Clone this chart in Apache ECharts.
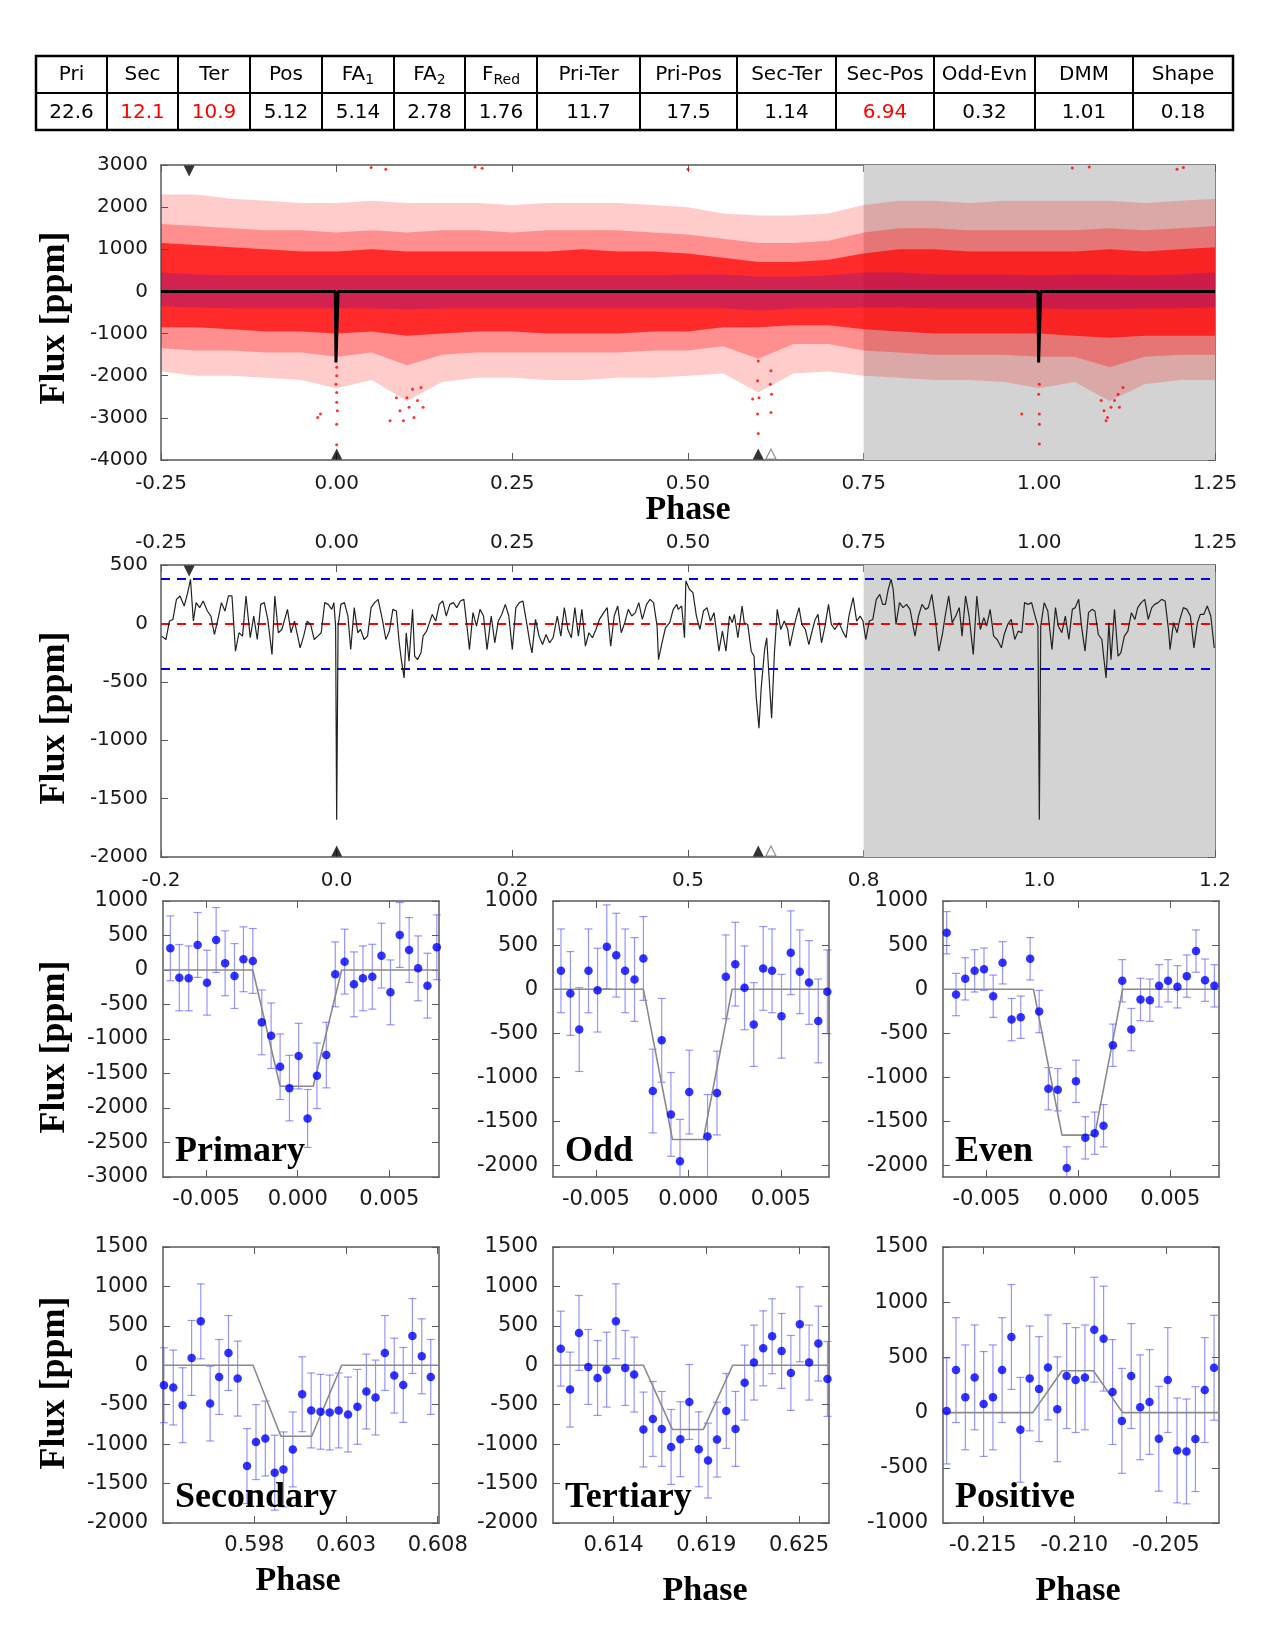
<!DOCTYPE html>
<html lang="en">
<head>
<meta charset="UTF-8">
<title>Flux vs phase diagnostics</title>
<script src="https://cdn.jsdelivr.net/npm/echarts@6/dist/echarts.min.js"></script>
<style>
  body { margin: 0; background: #fff; }
  #main { width: 1275px; height: 1650px; }
</style>
</head>
<body>
<div id="main"></div>
<script type="text/javascript">

// ---------- data ----------
const tableHead = ['Pri', 'Sec', 'Ter', 'Pos', 'FA{s|1}', 'FA{s|2}', 'F{s|Red}', 'Pri-Ter', 'Pri-Pos', 'Sec-Ter', 'Sec-Pos', 'Odd-Evn', 'DMM', 'Shape'];
const tableVals = ['22.6', '12.1', '10.9', '5.12', '5.14', '2.78', '1.76', '11.7', '17.5', '1.14', '6.94', '0.32', '1.01', '0.18'];
const tableRed = [false, true, true, false, false, false, false, false, false, false, true, false, false, false];

// phase axis of the two full-orbit panels
const phaseTicks = [-0.25, 0, 0.25, 0.5, 0.75, 1, 1.25];
const phaseLabels = ['-0.25', '0.00', '0.25', '0.50', '0.75', '1.00', '1.25'];
const phaseLabelsShort = ['-0.2', '0.0', '0.2', '0.5', '0.8', '1.0', '1.2'];
const shadeFrom = 0.75, shadeTo = 1.25;

// panel 1: unbinned (red) and binned (blue) flux, summarised as envelopes
const envPhase = [-0.25, -0.2, -0.15, -0.1, -0.05, 0, 0.05, 0.1, 0.15, 0.2, 0.25, 0.3, 0.35, 0.4, 0.45, 0.5, 0.55, 0.6, 0.65, 0.7, 0.75, 0.8, 0.85, 0.9, 0.95, 1.0, 1.05, 1.1, 1.15, 1.2, 1.25];
const redOuterHi = [2300, 2300, 2200, 2150, 2100, 2100, 2150, 2100, 2100, 2100, 2050, 2100, 2100, 2100, 2050, 2000, 1850, 1800, 1800, 1850, 2050, 2150, 2150, 2100, 2150, 2150, 2150, 2150, 2100, 2150, 2200];
const redMidHi = [1600, 1550, 1500, 1450, 1450, 1400, 1450, 1400, 1450, 1450, 1400, 1450, 1450, 1450, 1400, 1350, 1250, 1150, 1150, 1200, 1400, 1500, 1500, 1450, 1450, 1450, 1450, 1500, 1450, 1500, 1550];
const redInnerHi = [1150, 1100, 1050, 1000, 950, 950, 1000, 950, 950, 950, 950, 950, 1000, 950, 950, 900, 800, 700, 700, 750, 900, 1000, 1000, 950, 950, 950, 950, 1000, 950, 1000, 1050];
const redInnerLo = [-850, -850, -900, -950, -950, -1000, -950, -1050, -1000, -950, -950, -1000, -1000, -1000, -950, -950, -850, -850, -800, -800, -900, -950, -1000, -1000, -1000, -1000, -1050, -1100, -1050, -1050, -1050];
const redMidLo = [-1350, -1400, -1400, -1450, -1450, -1550, -1450, -1750, -1500, -1450, -1450, -1450, -1450, -1450, -1400, -1400, -1300, -1600, -1250, -1250, -1400, -1450, -1500, -1500, -1500, -1550, -1550, -1800, -1550, -1500, -1500];
const redOuterLo = [-1900, -2000, -2000, -2050, -2100, -2300, -2100, -2600, -2150, -2050, -2050, -2100, -2100, -2050, -2050, -2000, -1950, -2400, -1950, -1900, -2000, -2050, -2100, -2100, -2150, -2300, -2150, -2600, -2200, -2100, -2100];
const blueHi = [450, 400, 380, 380, 380, 380, 380, 380, 380, 380, 380, 380, 380, 380, 380, 400, 400, 350, 350, 380, 450, 450, 400, 400, 400, 380, 400, 400, 380, 400, 450];
const blueLo = [-350, -380, -400, -400, -400, -400, -400, -420, -400, -400, -400, -400, -400, -400, -400, -400, -400, -450, -400, -400, -380, -380, -400, -400, -400, -400, -420, -420, -400, -400, -380];
const redOutliers = [
  [0, -1800], [0, -2000], [-0.001, -2200], [0, -2400], [0, -2630], [0.001, -2830], [0, -3150], [0, -3640], [-0.023, -2910], [-0.027, -2990],
  [0.09, -2830], [0.095, -3070], [0.103, -2750], [0.11, -2990], [0.115, -2590], [0.12, -2280], [0.1, -2520], [0.108, -2320], [0.123, -2750], [0.085, -2520], [0.076, -3070],
  [0.6, -1650], [0.599, -2120], [0.601, -2520], [0.599, -2910], [0.6, -3370], [0.618, -1880], [0.617, -2200], [0.619, -2440], [0.618, -2870], [0.592, -2550],
  [1.0, -2200], [0.999, -2440], [1.0, -2910], [1.0, -3150], [1.0, -3620], [0.975, -2910],
  [1.092, -2830], [1.097, -2990], [1.102, -2750], [1.107, -2590], [1.095, -3070], [1.112, -2440], [1.114, -2750], [1.119, -2280], [1.088, -2590],
  [0.049, 2940], [0.07, 2900], [0.197, 2950], [0.207, 2920], [0.5, 2900], [1.047, 2930], [1.071, 2950], [1.196, 2900], [1.205, 2940]
];
const modelCurve = [[-0.25, 0], [-0.002, 0], [-0.001, -1685], [0.001, -1685], [0.002, 0], [0.998, 0], [0.999, -1685], [1.001, -1685], [1.002, 0], [1.25, 0]];

// event markers
const markPositive = [-0.21];
const markFilled = [0, 0.6];
const markOpen = [0.618];

// panel 2: smoothed flux
const sigmaLevel = 384;
const convCurve = [
  [-0.249, -109], [-0.243, -138], [-0.238, 20], [-0.233, 34], [-0.228, 206], [-0.223, 235], [-0.217, 149], [-0.212, 264], [-0.208, 378], [-0.204, 20],
  [-0.2, 178], [-0.195, 135], [-0.19, 192], [-0.184, 106], [-0.179, 63], [-0.174, -95], [-0.169, 34], [-0.164, 178], [-0.159, 106], [-0.154, 235],
  [-0.149, 235], [-0.144, -238], [-0.139, -80], [-0.134, -109], [-0.129, 235], [-0.123, -123], [-0.118, 63], [-0.113, -138], [-0.108, 163], [-0.103, 178],
  [-0.098, 34], [-0.092, -267], [-0.088, 235], [-0.083, -80], [-0.078, -52], [-0.07, 120], [-0.065, -80], [-0.06, 20], [-0.052, -209], [-0.047, -109],
  [-0.042, 20], [-0.037, -9], [-0.032, -138], [-0.027, -109], [-0.022, -80], [-0.017, 178], [-0.012, 163], [-0.007, 120], [-0.004, 178], [-0.0015, -23],
  [0, -1680], [0.002, -23], [0.006, 163], [0.011, 178], [0.016, 63], [0.02, -224], [0.025, 135], [0.03, -80], [0.034, -52], [0.039, -138],
  [0.044, -109], [0.049, 135], [0.054, 178], [0.059, 206], [0.065, 34], [0.07, -138], [0.075, -66], [0.08, 120], [0.085, 106], [0.089, -166],
  [0.092, -310], [0.096, -467], [0.099, -80], [0.103, -324], [0.108, 120], [0.111, -281], [0.115, -310], [0.12, -252], [0.123, -109], [0.128, -66],
  [0.136, 77], [0.141, 20], [0.146, 163], [0.151, 192], [0.156, 63], [0.161, 163], [0.166, 178], [0.171, 135], [0.176, 192], [0.181, 206],
  [0.186, -52], [0.189, -224], [0.194, 92], [0.199, -23], [0.204, 120], [0.209, 63], [0.214, -224], [0.22, 63], [0.225, -166], [0.23, 20],
  [0.235, 77], [0.24, 163], [0.245, 63], [0.25, -224], [0.255, 135], [0.26, 178], [0.265, 192], [0.27, 20], [0.275, -166], [0.278, -252],
  [0.283, 34], [0.288, -109], [0.293, -181], [0.298, -95], [0.303, -166], [0.308, -123], [0.314, 63], [0.319, -109], [0.324, 135], [0.329, -52],
  [0.334, -123], [0.339, 135], [0.344, -109], [0.349, 120], [0.354, -195], [0.359, -80], [0.364, -123], [0.369, -52], [0.374, 34], [0.38, 92],
  [0.385, 135], [0.39, -195], [0.395, 63], [0.4, 149], [0.405, -80], [0.41, 6], [0.415, 120], [0.42, 63], [0.425, 92], [0.43, 178],
  [0.435, 34], [0.441, 163], [0.446, 206], [0.451, 178], [0.456, -23], [0.458, -310], [0.463, -166], [0.468, -37], [0.474, 6], [0.479, 120],
  [0.484, 163], [0.486, 120], [0.491, 149], [0.495, -123], [0.497, 364], [0.502, 292], [0.507, 264], [0.512, 63], [0.517, -52], [0.522, 106],
  [0.527, 135], [0.532, 20], [0.537, 92], [0.542, -138], [0.544, -238], [0.549, -66], [0.554, -238], [0.559, 63], [0.563, 6], [0.566, 77],
  [0.571, -123], [0.577, 149], [0.58, 6], [0.585, -9], [0.59, -238], [0.594, -281], [0.597, -625], [0.601, -897], [0.604, -567], [0.609, -224],
  [0.612, -123], [0.615, -424], [0.619, -811], [0.623, -252], [0.627, 120], [0.632, -52], [0.637, 20], [0.642, -52], [0.645, -195], [0.65, -52],
  [0.654, 49], [0.658, 135], [0.662, -9], [0.667, -52], [0.672, -181], [0.676, -80], [0.681, 34], [0.685, 77], [0.69, -166], [0.695, -23],
  [0.7, 163], [0.704, -9], [0.709, -52], [0.715, 6], [0.72, -66], [0.725, -123], [0.729, 63], [0.735, 221], [0.74, 20], [0.745, 63],
  [0.749, 20], [0.753, -138], [0.758, 20], [0.763, 34], [0.768, 206], [0.773, 249], [0.777, 163], [0.781, 163], [0.785, 292], [0.789, 378],
  [0.792, 292], [0.796, -9], [0.801, 178], [0.806, 135], [0.811, 163], [0.816, 120], [0.823, -109], [0.828, 63], [0.833, 163], [0.838, 120],
  [0.842, 135], [0.847, 249], [0.852, 34], [0.857, -238], [0.862, -95], [0.866, 63], [0.871, 235], [0.876, 6], [0.881, 63], [0.886, 135],
  [0.89, -109], [0.895, 235], [0.9, 63], [0.906, -267], [0.911, 235], [0.916, -52], [0.921, 49], [0.925, -23], [0.93, 120], [0.935, -109],
  [0.94, -138], [0.946, -209], [0.95, -95], [0.955, -9], [0.96, 34], [0.965, -138], [0.97, -66], [0.975, -80], [0.979, 178], [0.984, 163],
  [0.989, 178], [0.994, 63], [0.998, -23], [1.0, -1680], [1.002, -23], [1.007, 178], [1.012, 106], [1.018, -224], [1.023, 135], [1.027, -23],
  [1.032, -80], [1.037, 63], [1.042, -138], [1.047, 120], [1.051, 135], [1.056, 206], [1.06, -23], [1.065, -238], [1.07, 92], [1.075, 120],
  [1.079, 106], [1.084, -95], [1.089, -138], [1.092, -310], [1.095, -467], [1.099, 6], [1.102, -310], [1.107, 120], [1.112, -281], [1.116, -252],
  [1.121, -109], [1.126, -66], [1.131, 92], [1.136, 34], [1.14, 135], [1.145, 178], [1.15, 206], [1.155, 34], [1.16, 135], [1.164, 163],
  [1.169, 178], [1.174, 206], [1.179, 192], [1.184, -66], [1.186, -224], [1.191, 6], [1.196, -80], [1.2, 34], [1.205, 135], [1.21, 120],
  [1.215, 63], [1.22, -209], [1.225, 6], [1.229, 77], [1.234, 77], [1.239, 149], [1.244, 63], [1.249, -209]
];

// small panels: binned points, errors and trapezoid models
const primPhase = [-0.00695, -0.00646, -0.00595, -0.00546, -0.00495, -0.00445, -0.00396, -0.00345, -0.00296, -0.00245, -0.00196, -0.00145, -0.00096, -0.00045, 0.00005, 0.00054, 0.00105, 0.00156, 0.00205, 0.00256, 0.00307, 0.00356, 0.00407, 0.00457, 0.00506, 0.00557, 0.00608, 0.00657, 0.00708, 0.00759];
const primFlux = [314, -111, -121, 363, -184, 435, 97, -87, 155, 131, -759, -953, -1402, -1712, -1248, -2152, -1533, -1233, -63, 121, -208, -121, -97, 208, -324, 508, 290, 24, -227, 329];
const primErr = [470, 480, 470, 470, 470, 470, 470, 470, 470, 470, 470, 475, 475, 475, 475, 420, 475, 475, 470, 470, 470, 470, 470, 470, 470, 470, 470, 470, 470, 470];
const primModel = [[-0.00735, 0], [-0.00245, 0], [-0.00096, -1685], [0.00085, -1685], [0.0024, 0], [0.00771, 0]];

const oddPhase = [-0.00689, -0.00638, -0.0059, -0.0054, -0.00491, -0.00441, -0.0039, -0.00342, -0.00291, -0.00243, -0.00192, -0.00144, -0.00094, -0.00045, 0.00005, 0.00104, 0.00155, 0.00203, 0.00254, 0.00304, 0.00354, 0.00405, 0.00453, 0.00504, 0.00554, 0.00603, 0.00653, 0.00703, 0.00752];
const oddFlux = [208, -49, -458, 208, -11, 481, 386, 208, 110, 348, -1155, -580, -1420, -1951, -1167, -1670, -1178, 140, 284, 15, -401, 235, 208, -307, 413, 197, 76, -360, -30];
const oddErr = [475, 475, 475, 475, 475, 475, 475, 475, 475, 475, 475, 475, 475, 475, 475, 475, 475, 475, 475, 475, 475, 475, 475, 475, 475, 475, 475, 475, 475];
const oddModel = [[-0.00732, 0], [-0.00243, 0], [-0.00086, -1705], [0.00081, -1705], [0.00237, 0], [0.00761, 0]];

const evenPhase = [-0.00716, -0.00665, -0.00615, -0.00564, -0.00513, -0.00463, -0.00412, -0.00363, -0.00313, -0.00262, -0.00213, -0.00163, -0.00112, -0.00063, -0.00013, 0.00038, 0.00089, 0.00137, 0.00188, 0.00239, 0.00288, 0.00338, 0.00389, 0.00439, 0.00488, 0.00539, 0.0059, 0.0064, 0.00689, 0.0074];
const evenFlux = [640, -61, 117, 208, 227, -80, 299, -345, -318, 345, -254, -1129, -1140, -2027, -1045, -1686, -1633, -1549, -636, 95, -458, -117, -125, 38, 95, 27, 148, 432, 102, 38];
const evenErr = [240, 240, 240, 240, 240, 240, 240, 240, 240, 240, 240, 240, 240, 240, 240, 240, 240, 240, 240, 240, 240, 240, 240, 240, 240, 240, 240, 240, 240, 240];
const evenModel = [[-0.00736, 0], [-0.00244, 0], [-0.00089, -1655], [0.00089, -1655], [0.00241, 0], [0.00765, 0]];

const secPhase = [0.59307, 0.59358, 0.59409, 0.59458, 0.59508, 0.59559, 0.59608, 0.59659, 0.59709, 0.5976, 0.59809, 0.5986, 0.59911, 0.59959, 0.6001, 0.60061, 0.6011, 0.60161, 0.60211, 0.6026, 0.60311, 0.60362, 0.60411, 0.60461, 0.60512, 0.60563, 0.60612, 0.60662, 0.60713, 0.60762];
const secFlux = [-253, -282, -506, 93, 557, -485, -148, 156, -169, -1278, -974, -928, -1362, -1320, -1067, -367, -573, -590, -599, -573, -624, -527, -333, -409, 156, -131, -249, 371, 114, -148];
const secErr = [475, 475, 475, 475, 475, 475, 475, 475, 475, 475, 475, 475, 475, 475, 475, 475, 475, 475, 475, 475, 475, 475, 475, 475, 475, 475, 475, 475, 475, 475];
const secModel = [[0.59302, 0], [0.59793, 0], [0.59945, -900], [0.60113, -900], [0.60276, 0], [0.60807, 0]];

const terPhase = [0.61087, 0.61142, 0.61195, 0.6125, 0.61305, 0.61359, 0.61414, 0.61469, 0.61522, 0.61577, 0.61633, 0.61686, 0.61741, 0.61796, 0.61849, 0.61905, 0.6196, 0.62013, 0.62068, 0.62123, 0.62177, 0.62232, 0.62287, 0.6234, 0.62396, 0.62451, 0.62504, 0.62559, 0.62614, 0.62668];
const terFlux = [211, -308, 410, -21, -161, -55, 558, -34, -118, -815, -680, -807, -1035, -938, -465, -1065, -1208, -942, -579, -807, -220, 34, 215, 368, 182, -97, 520, 34, 275, -173];
const terErr = [475, 475, 475, 475, 475, 475, 475, 475, 475, 475, 475, 475, 475, 475, 475, 475, 475, 475, 475, 475, 475, 475, 475, 475, 475, 475, 475, 475, 475, 475];
const terModel = [[0.61041, 0], [0.61577, 0], [0.61749, -815], [0.61932, -815], [0.62106, 0], [0.62677, 0]];

const posPhase = [-0.21698, -0.21647, -0.21596, -0.21545, -0.21496, -0.21445, -0.21395, -0.21344, -0.21295, -0.21244, -0.21193, -0.21144, -0.21093, -0.21042, -0.20993, -0.20942, -0.20891, -0.2084, -0.20791, -0.2074, -0.20689, -0.2064, -0.20589, -0.20538, -0.20489, -0.20438, -0.20387, -0.20338, -0.20287, -0.20236];
const posFlux = [15, 385, 138, 319, 78, 138, 385, 685, -156, 310, 213, 409, 30, 331, 295, 319, 751, 670, 186, -75, 331, 48, 96, -237, 295, -343, -352, -240, 204, 406];
const posErr = [480, 475, 475, 475, 475, 475, 475, 475, 475, 475, 475, 475, 475, 475, 475, 475, 475, 475, 475, 475, 475, 475, 475, 475, 475, 475, 475, 475, 475, 475];
const posModel = [[-0.21718, 0], [-0.21227, 0], [-0.21067, 379], [-0.20896, 379], [-0.20736, 0], [-0.20209, 0]];

// tick values and labels
const yTicksTop = [-4000, -3000, -2000, -1000, 0, 1000, 2000, 3000];
const yTicksConv = [-2000, -1500, -1000, -500, 0, 500];
const yTicksPrim = [-3000, -2500, -2000, -1500, -1000, -500, 0, 500, 1000];
const yTicksOddEven = [-2000, -1500, -1000, -500, 0, 500, 1000];
const yTicksSecTer = [-2000, -1500, -1000, -500, 0, 500, 1000, 1500];
const yTicksPos = [-1000, -500, 0, 500, 1000, 1500];
const xTicksCentre = [-0.005, 0, 0.005];
const xLabelsCentre = ['-0.005', '0.000', '0.005'];
const xTicksSec = [0.598, 0.603, 0.608];
const xLabelsSec = ['0.598', '0.603', '0.608'];
const xTicksTer = [0.614, 0.6195, 0.625];
const xLabelsTer = ['0.614', '0.619', '0.625'];
const xTicksPos = [-0.215, -0.21, -0.205];
const xLabelsPos = ['-0.215', '-0.210', '-0.205'];

// ---------- styles ----------
const FRAME = '#5a5a5a';
const LABEL = '#1a1a1a';
const SANS = 'DejaVu Sans';
const SERIF = '"Liberation Serif", "DejaVu Serif", serif';
const SHADE = '#d3d3d3';
const ERRCOL = 'rgba(80,80,255,0.6)';

let chart = echarts.init(document.getElementById('main'));

let grids = [], xAxes = [], yAxes = [], series = [], graphics = [];

function labelFormatter(ticks, labels) {
    return function (v) {
        for (let i = 0; i < ticks.length; i++) {
            if (Math.abs(ticks[i] - v) < 1e-9) return labels[i];
        }
        return '';
    };
}

function makeAxis(gi, pos, min, max, ticks, labels, fs, margin) {
    return {
        type: 'value', gridIndex: gi, position: pos, min: min, max: max, scale: true,
        splitLine: {show: false},
        axisLine: {show: true, onZero: false, lineStyle: {color: FRAME, width: 1.5}},
        axisTick: {show: true, inside: true, length: 7, customValues: ticks, lineStyle: {color: FRAME, width: 1}},
        axisLabel: labels ? {
            show: true, customValues: ticks, formatter: labelFormatter(ticks, labels),
            color: LABEL, fontSize: fs, fontFamily: SANS, margin: margin
        } : {show: false}
    };
}

function addPanel(p) {
    let gi = grids.length;
    grids.push({left: p.left, top: p.top, width: p.width, height: p.height});
    let ax = {x: xAxes.length, y: yAxes.length};
    xAxes.push(makeAxis(gi, 'bottom', p.xMin, p.xMax, p.xTicks, p.xLabels, p.fs, p.xMargin));
    xAxes.push(makeAxis(gi, 'top', p.xMin, p.xMax, p.xTicks, p.xTopLabels || null, p.fs, p.xTopMargin));
    yAxes.push(makeAxis(gi, 'left', p.yMin, p.yMax, p.yTicks, p.yTicks.map(String), p.fs, p.yMargin));
    yAxes.push(makeAxis(gi, 'right', p.yMin, p.yMax, p.yTicks, null));
    return ax;
}

// filled band between lo and hi, drawn as one polygon through the axis scales
function addBand(ax, phase, lo, hi, color, opacity, z) {
    series.push({
        type: 'custom', xAxisIndex: ax.x, yAxisIndex: ax.y, z: z, silent: true,
        data: phase.map((p, i) => [p, lo[i], hi[i]]),
        renderItem: function (params, api) {
            if (params.dataIndex !== 0) return null;
            let pts = [];
            for (let i = 0; i < phase.length; i++) pts.push(api.coord([phase[i], hi[i]]));
            for (let i = phase.length - 1; i >= 0; i--) pts.push(api.coord([phase[i], lo[i]]));
            return {type: 'polygon', shape: {points: pts}, style: {fill: color, opacity: opacity}};
        }
    });
}

function addShade(ax) {
    series.push({
        type: 'line', xAxisIndex: ax.x, yAxisIndex: ax.y, z: 1, silent: true,
        symbol: 'none', lineStyle: {width: 0, opacity: 0}, data: [[shadeFrom, 0]],
        markArea: {silent: true, itemStyle: {color: SHADE}, data: [[{xAxis: shadeFrom}, {xAxis: shadeTo}]]}
    });
}

function addMarkers(ax, yTop, yBottom) {
    series.push({
        type: 'scatter', xAxisIndex: ax.x, yAxisIndex: ax.y, z: 8, silent: true,
        symbol: 'triangle', symbolRotate: 180, symbolSize: 11, symbolOffset: [0, 6],
        itemStyle: {color: '#000'}, data: markPositive.map(p => [p, yTop])
    });
    series.push({
        type: 'scatter', xAxisIndex: ax.x, yAxisIndex: ax.y, z: 8, silent: true,
        symbol: 'triangle', symbolSize: 11, symbolOffset: [0, -6],
        itemStyle: {color: '#000'}, data: markFilled.map(p => [p, yBottom])
    });
    series.push({
        type: 'scatter', xAxisIndex: ax.x, yAxisIndex: ax.y, z: 8, silent: true,
        symbol: 'triangle', symbolSize: 10, symbolOffset: [0, -6],
        itemStyle: {color: '#fff', borderColor: '#777', borderWidth: 1.2}, data: markOpen.map(p => [p, yBottom])
    });
}

function renderErrorBar(params, api) {
    let x = api.value(0);
    let pHi = api.coord([x, api.value(2)]);
    let pLo = api.coord([x, api.value(1)]);
    let cs = params.coordSys;
    let top = cs.y, bottom = cs.y + cs.height;
    let st = function () { return {stroke: ERRCOL, lineWidth: 1.2}; };
    let kids = [{
        type: 'line',
        shape: {x1: pHi[0], y1: Math.max(pHi[1], top), x2: pHi[0], y2: Math.min(pLo[1], bottom)},
        style: st()
    }];
    if (pHi[1] >= top) kids.push({type: 'line', shape: {x1: pHi[0] - 4, y1: pHi[1], x2: pHi[0] + 4, y2: pHi[1]}, style: st()});
    if (pLo[1] <= bottom) kids.push({type: 'line', shape: {x1: pLo[0] - 4, y1: pLo[1], x2: pLo[0] + 4, y2: pLo[1]}, style: st()});
    return {type: 'group', children: kids};
}

function addBinned(ax, phase, flux, err, model) {
    series.push({
        type: 'custom', xAxisIndex: ax.x, yAxisIndex: ax.y, z: 3, silent: true,
        renderItem: renderErrorBar,
        data: phase.map((p, i) => [p, flux[i] - err[i], flux[i] + err[i]])
    });
    series.push({
        type: 'line', xAxisIndex: ax.x, yAxisIndex: ax.y, z: 4, silent: true, symbol: 'none',
        lineStyle: {color: '#8a8a8a', width: 1.6}, data: model
    });
    series.push({
        type: 'scatter', xAxisIndex: ax.x, yAxisIndex: ax.y, z: 5, silent: true,
        symbolSize: 8.5, itemStyle: {color: '#0000ff'},
        data: phase.map((p, i) => [p, flux[i]])
    });
}

function addText(text, x, y, font, opts) {
    graphics.push(Object.assign({
        type: 'text', x: x, y: y, z: 100, silent: true,
        style: {
            text: text, x: 0, y: 0, font: font, fill: '#000',
            align: (opts && opts.align) || 'center', textAlign: (opts && opts.align) || 'center',
            verticalAlign: 'middle', textVerticalAlign: 'middle'
        }
    }, opts && opts.rotation ? {rotation: opts.rotation} : {}));
}

// ---------- table ----------
const colX = [36, 107, 178, 250, 322, 394, 465, 537, 640, 737, 836, 934, 1035, 1133, 1233];
const rowY = [56, 93, 130];
graphics.push({
    type: 'rect', z: 100, silent: true,
    shape: {x: colX[0], y: rowY[0], width: colX[colX.length - 1] - colX[0], height: rowY[2] - rowY[0]},
    style: {fill: 'none', stroke: '#000', lineWidth: 2.5}
});
graphics.push({
    type: 'line', z: 100, silent: true,
    shape: {x1: colX[0], y1: rowY[1], x2: colX[colX.length - 1], y2: rowY[1]},
    style: {stroke: '#000', lineWidth: 2}
});
for (let i = 1; i < colX.length - 1; i++) {
    graphics.push({
        type: 'line', z: 100, silent: true,
        shape: {x1: colX[i], y1: rowY[0], x2: colX[i], y2: rowY[2]},
        style: {stroke: '#000', lineWidth: 2}
    });
}
for (let i = 0; i < tableHead.length; i++) {
    let cx = (colX[i] + colX[i + 1]) / 2;
    graphics.push({
        type: 'text', z: 101, silent: true, x: cx, y: (rowY[0] + rowY[1]) / 2,
        style: {
            text: tableHead[i], x: 0, y: 0, fill: '#000', fontSize: 20, fontFamily: SANS, lineHeight: 26,
            align: 'center', textAlign: 'center', verticalAlign: 'middle', textVerticalAlign: 'middle',
            rich: {s: {fontSize: 14, fontFamily: SANS, fill: '#000', lineHeight: 14, verticalAlign: 'bottom'}}
        }
    });
    graphics.push({
        type: 'text', z: 101, silent: true, x: cx, y: (rowY[1] + rowY[2]) / 2 + 1,
        style: {
            text: tableVals[i], x: 0, y: 0, fill: tableRed[i] ? '#ff0000' : '#000', fontSize: 20, fontFamily: SANS,
            align: 'center', textAlign: 'center', verticalAlign: 'middle', textVerticalAlign: 'middle'
        }
    });
}

// ---------- panel 1: phase-folded flux ----------
let ax1 = addPanel({
    left: 161, top: 165, width: 1054, height: 295,
    xMin: -0.25, xMax: 1.25, xTicks: phaseTicks, xLabels: phaseLabels, xMargin: 14,
    yMin: -4000, yMax: 3000, yTicks: yTicksTop, yMargin: 13, fs: 20
});
addShade(ax1);
addBand(ax1, envPhase, redOuterLo, redOuterHi, '#ff0000', 0.2, 2);
addBand(ax1, envPhase, redMidLo, redMidHi, '#ff0000', 0.3, 3);
addBand(ax1, envPhase, redInnerLo, redInnerHi, '#ff0000', 0.7, 4);
series.push({
    type: 'scatter', xAxisIndex: ax1.x, yAxisIndex: ax1.y, z: 4, silent: true,
    symbolSize: 3, itemStyle: {color: '#ff0000'}, data: redOutliers
});
addBand(ax1, envPhase, blueLo, blueHi, '#0000ff', 0.18, 5);
series.push({
    type: 'line', xAxisIndex: ax1.x, yAxisIndex: ax1.y, z: 7, silent: true, symbol: 'none',
    lineStyle: {color: '#000', width: 3}, data: modelCurve
});
addMarkers(ax1, 3000, -4000);

// ---------- panel 2: smoothed flux ----------
let ax2 = addPanel({
    left: 161, top: 565, width: 1054, height: 292,
    xMin: -0.25, xMax: 1.25, xTicks: phaseTicks, xLabels: phaseLabelsShort, xMargin: 14,
    xTopLabels: phaseLabels, xTopMargin: 12,
    yMin: -2000, yMax: 500, yTicks: yTicksConv, yMargin: 13, fs: 20
});
addShade(ax2);
series.push({
    type: 'line', xAxisIndex: ax2.x, yAxisIndex: ax2.y, z: 5, silent: true, symbol: 'none',
    lineStyle: {color: '#222', width: 1.2}, data: convCurve,
    markLine: {
        silent: true, symbol: 'none', label: {show: false}, animation: false,
        data: [
            {yAxis: sigmaLevel, lineStyle: {color: '#0000ff', type: [9, 7], width: 2.2}},
            {yAxis: -sigmaLevel, lineStyle: {color: '#0000ff', type: [9, 7], width: 2.2}},
            {yAxis: 0, lineStyle: {color: '#ff0000', type: [9, 7], width: 2.2}}
        ]
    }
});
addMarkers(ax2, 500, -2000);

// ---------- small panels ----------
const cols = [163, 553, 943];
const smallW = 276, smallH = 276;
const rowTop = [901, 1247];

let small = [
    {name: 'Primary', col: 0, row: 0, xMin: -0.00735, xMax: 0.00771, xTicks: xTicksCentre, xLabels: xLabelsCentre, yMin: -3000, yMax: 1000, yTicks: yTicksPrim, d: [primPhase, primFlux, primErr, primModel]},
    {name: 'Odd', col: 1, row: 0, xMin: -0.00732, xMax: 0.00761, xTicks: xTicksCentre, xLabels: xLabelsCentre, yMin: -2130, yMax: 1000, yTicks: yTicksOddEven, d: [oddPhase, oddFlux, oddErr, oddModel]},
    {name: 'Even', col: 2, row: 0, xMin: -0.00736, xMax: 0.00765, xTicks: xTicksCentre, xLabels: xLabelsCentre, yMin: -2130, yMax: 1000, yTicks: yTicksOddEven, d: [evenPhase, evenFlux, evenErr, evenModel]},
    {name: 'Secondary', col: 0, row: 1, xMin: 0.59302, xMax: 0.60807, xTicks: xTicksSec, xLabels: xLabelsSec, yMin: -2000, yMax: 1500, yTicks: yTicksSecTer, d: [secPhase, secFlux, secErr, secModel]},
    {name: 'Tertiary', col: 1, row: 1, xMin: 0.61041, xMax: 0.62677, xTicks: xTicksTer, xLabels: xLabelsTer, yMin: -2000, yMax: 1500, yTicks: yTicksSecTer, d: [terPhase, terFlux, terErr, terModel]},
    {name: 'Positive', col: 2, row: 1, xMin: -0.21718, xMax: -0.20209, xTicks: xTicksPos, xLabels: xLabelsPos, yMin: -1000, yMax: 1500, yTicks: yTicksPos, d: [posPhase, posFlux, posErr, posModel]}
];

small.forEach(function (s) {
    let ax = addPanel({
        left: cols[s.col], top: rowTop[s.row], width: smallW, height: smallH,
        xMin: s.xMin, xMax: s.xMax, xTicks: s.xTicks, xLabels: s.xLabels, xMargin: 12,
        yMin: s.yMin, yMax: s.yMax, yTicks: s.yTicks, yMargin: 15, fs: 21
    });
    addBinned(ax, s.d[0], s.d[1], s.d[2], s.d[3]);
    addText(s.name, cols[s.col] + 12, rowTop[s.row] + 251, 'bold 36px ' + SERIF, {align: 'left'});
});

// ---------- axis titles ----------
const fluxTitleY = [318, 718, 1047, 1383];
fluxTitleY.forEach(function (y) {
    addText('Flux [ppm]', 55, y, 'bold 36px ' + SERIF, {rotation: Math.PI / 2});
});
addText('Phase', 688, 510, 'bold 34px ' + SERIF);
addText('Phase', 298, 1581, 'bold 34px ' + SERIF);
addText('Phase', 705, 1591, 'bold 34px ' + SERIF);
addText('Phase', 1078, 1591, 'bold 34px ' + SERIF);

let option = {
    animation: false,
    backgroundColor: '#fff',
    grid: grids,
    xAxis: xAxes,
    yAxis: yAxes,
    series: series,
    graphic: {elements: graphics}
};
chart.setOption(option);

</script>
</body>
</html>
